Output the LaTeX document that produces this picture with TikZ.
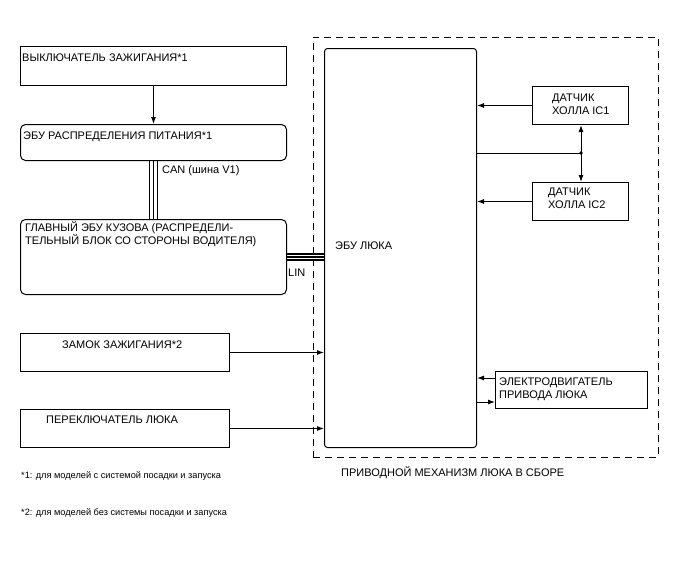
\documentclass[tikz,border=0pt]{standalone}
\usepackage{fontspec}
\setmainfont{Liberation Sans}
\usetikzlibrary{arrows.meta}

\tikzset{
  blk/.style={draw, line width=1pt, inner sep=0pt, anchor=north west},
  rblk/.style={blk, rounded corners=5pt},
  lbl/.style={inner sep=0pt, anchor=base west, font=\fontsize{11}{12.5}\selectfont},
  note/.style={lbl, font=\fontsize{9.2}{11}\selectfont},
  wire/.style={line width=1pt},
  bus/.style={line width=1.2pt},
  arr/.style={wire, -{Latex[length=7pt,width=5pt]}},
}

\begin{document}
\begin{tikzpicture}[x=1pt,y=-1pt]
\useasboundingbox (0,0) rectangle (688,560);

% assembly outline and sunroof ECU
\node[blk, dash pattern=on 7pt off 5pt, line width=0.9pt, minimum width=345pt, minimum height=420pt] (assy) at (313,37) {};
\node[blk, rounded corners=3pt, minimum width=152pt, minimum height=399pt] (ecu) at (324,48) {};

% left column
\node[blk, minimum width=266pt, minimum height=39pt] (ign) at (20,46) {};
\node[rblk, minimum width=266pt, minimum height=36pt] (pdu) at (20,124) {};
\node[rblk, minimum width=266pt, minimum height=75pt] (bcm) at (20,219) {};
\node[blk, minimum width=209pt, minimum height=38pt] (lock) at (20,333) {};
\node[blk, minimum width=209pt, minimum height=38pt] (sw) at (20,409) {};

% right column
\node[blk, minimum width=96pt, minimum height=38pt] (ic1) at (532,86) {};
\node[blk, minimum width=96pt, minimum height=38pt] (ic2) at (532,182) {};
\node[blk, minimum width=152pt, minimum height=37pt] (mot) at (495,371) {};

% texts
\node[lbl] (tign) at (22,61) {ВЫКЛЮЧАТЕЛЬ ЗАЖИГАНИЯ*1};
\node[lbl] (tpdu) at (23,139) {ЭБУ РАСПРЕДЕЛЕНИЯ ПИТАНИЯ*1};
\node[lbl] (tcan) at (162,173) {CAN (шина V1)};
\node[lbl, align=left] (tbcm) at (25,244) {ГЛАВНЫЙ ЭБУ КУЗОВА (РАСПРЕДЕЛИ-\\ТЕЛЬНЫЙ БЛОК СО СТОРОНЫ ВОДИТЕЛЯ)};
\node[lbl] (tlin) at (288,276) {LIN};
\node[lbl] (tlock) at (62,348) {ЗАМОК ЗАЖИГАНИЯ*2};
\node[lbl] (tsw) at (46,423) {ПЕРЕКЛЮЧАТЕЛЬ ЛЮКА};
\node[lbl] (tecu) at (335,249) {ЭБУ ЛЮКА};
\node[lbl, align=left] (tic1) at (552,114) {ДАТЧИК\\ХОЛЛА IC1};
\node[lbl, align=left] (tic2) at (548,208) {ДАТЧИК\\ХОЛЛА IC2};
\node[lbl, align=left] (tmot) at (499,398) {ЭЛЕКТРОДВИГАТЕЛЬ\\ПРИВОДА ЛЮКА};
\node[lbl] (tassy) at (341,476) {ПРИВОДНОЙ МЕХАНИЗМ ЛЮКА В СБОРЕ};
\node[note] (fn1) at (21,478) {*1: для моделей с системой посадки и запуска};
\node[note] (fn2) at (21,515) {*2: для моделей без системы посадки и запуска};

% connections
\draw[arr] (ign.south) -- (pdu.north);
\foreach \d in {-4,0,4}
  \draw[bus] ([xshift=\d pt]pdu.south) -- ([xshift=\d pt]bcm.north);
\foreach \d in {-3,0,3}
  \draw[bus] ([yshift=\d pt]bcm.east) -- ([yshift=\d pt]bcm.east -| ecu.west);
\draw[arr] (lock.east) -- (lock.east -| ecu.west);
\draw[arr] (sw.east) -- (sw.east -| ecu.west);
\draw[arr] (ic1.west) -- (ic1.west -| ecu.east);
\draw[arr] (ic2.west) -- (ic2.west -| ecu.east);
\coordinate (jn) at (581,153);
\draw[wire] (ecu.east |- jn) -- (jn);
\fill (jn) circle (1.8);
\draw[arr] (jn) -- (jn |- ic1.south);
\draw[arr] (jn) -- (jn |- ic2.north);
\draw[arr] ([yshift=12pt]mot.west) -- ([yshift=12pt]mot.west -| ecu.east);
\draw[arr] ([yshift=-12pt]mot.west -| ecu.east) -- ([yshift=-12pt]mot.west);
\end{tikzpicture}
\end{document}
